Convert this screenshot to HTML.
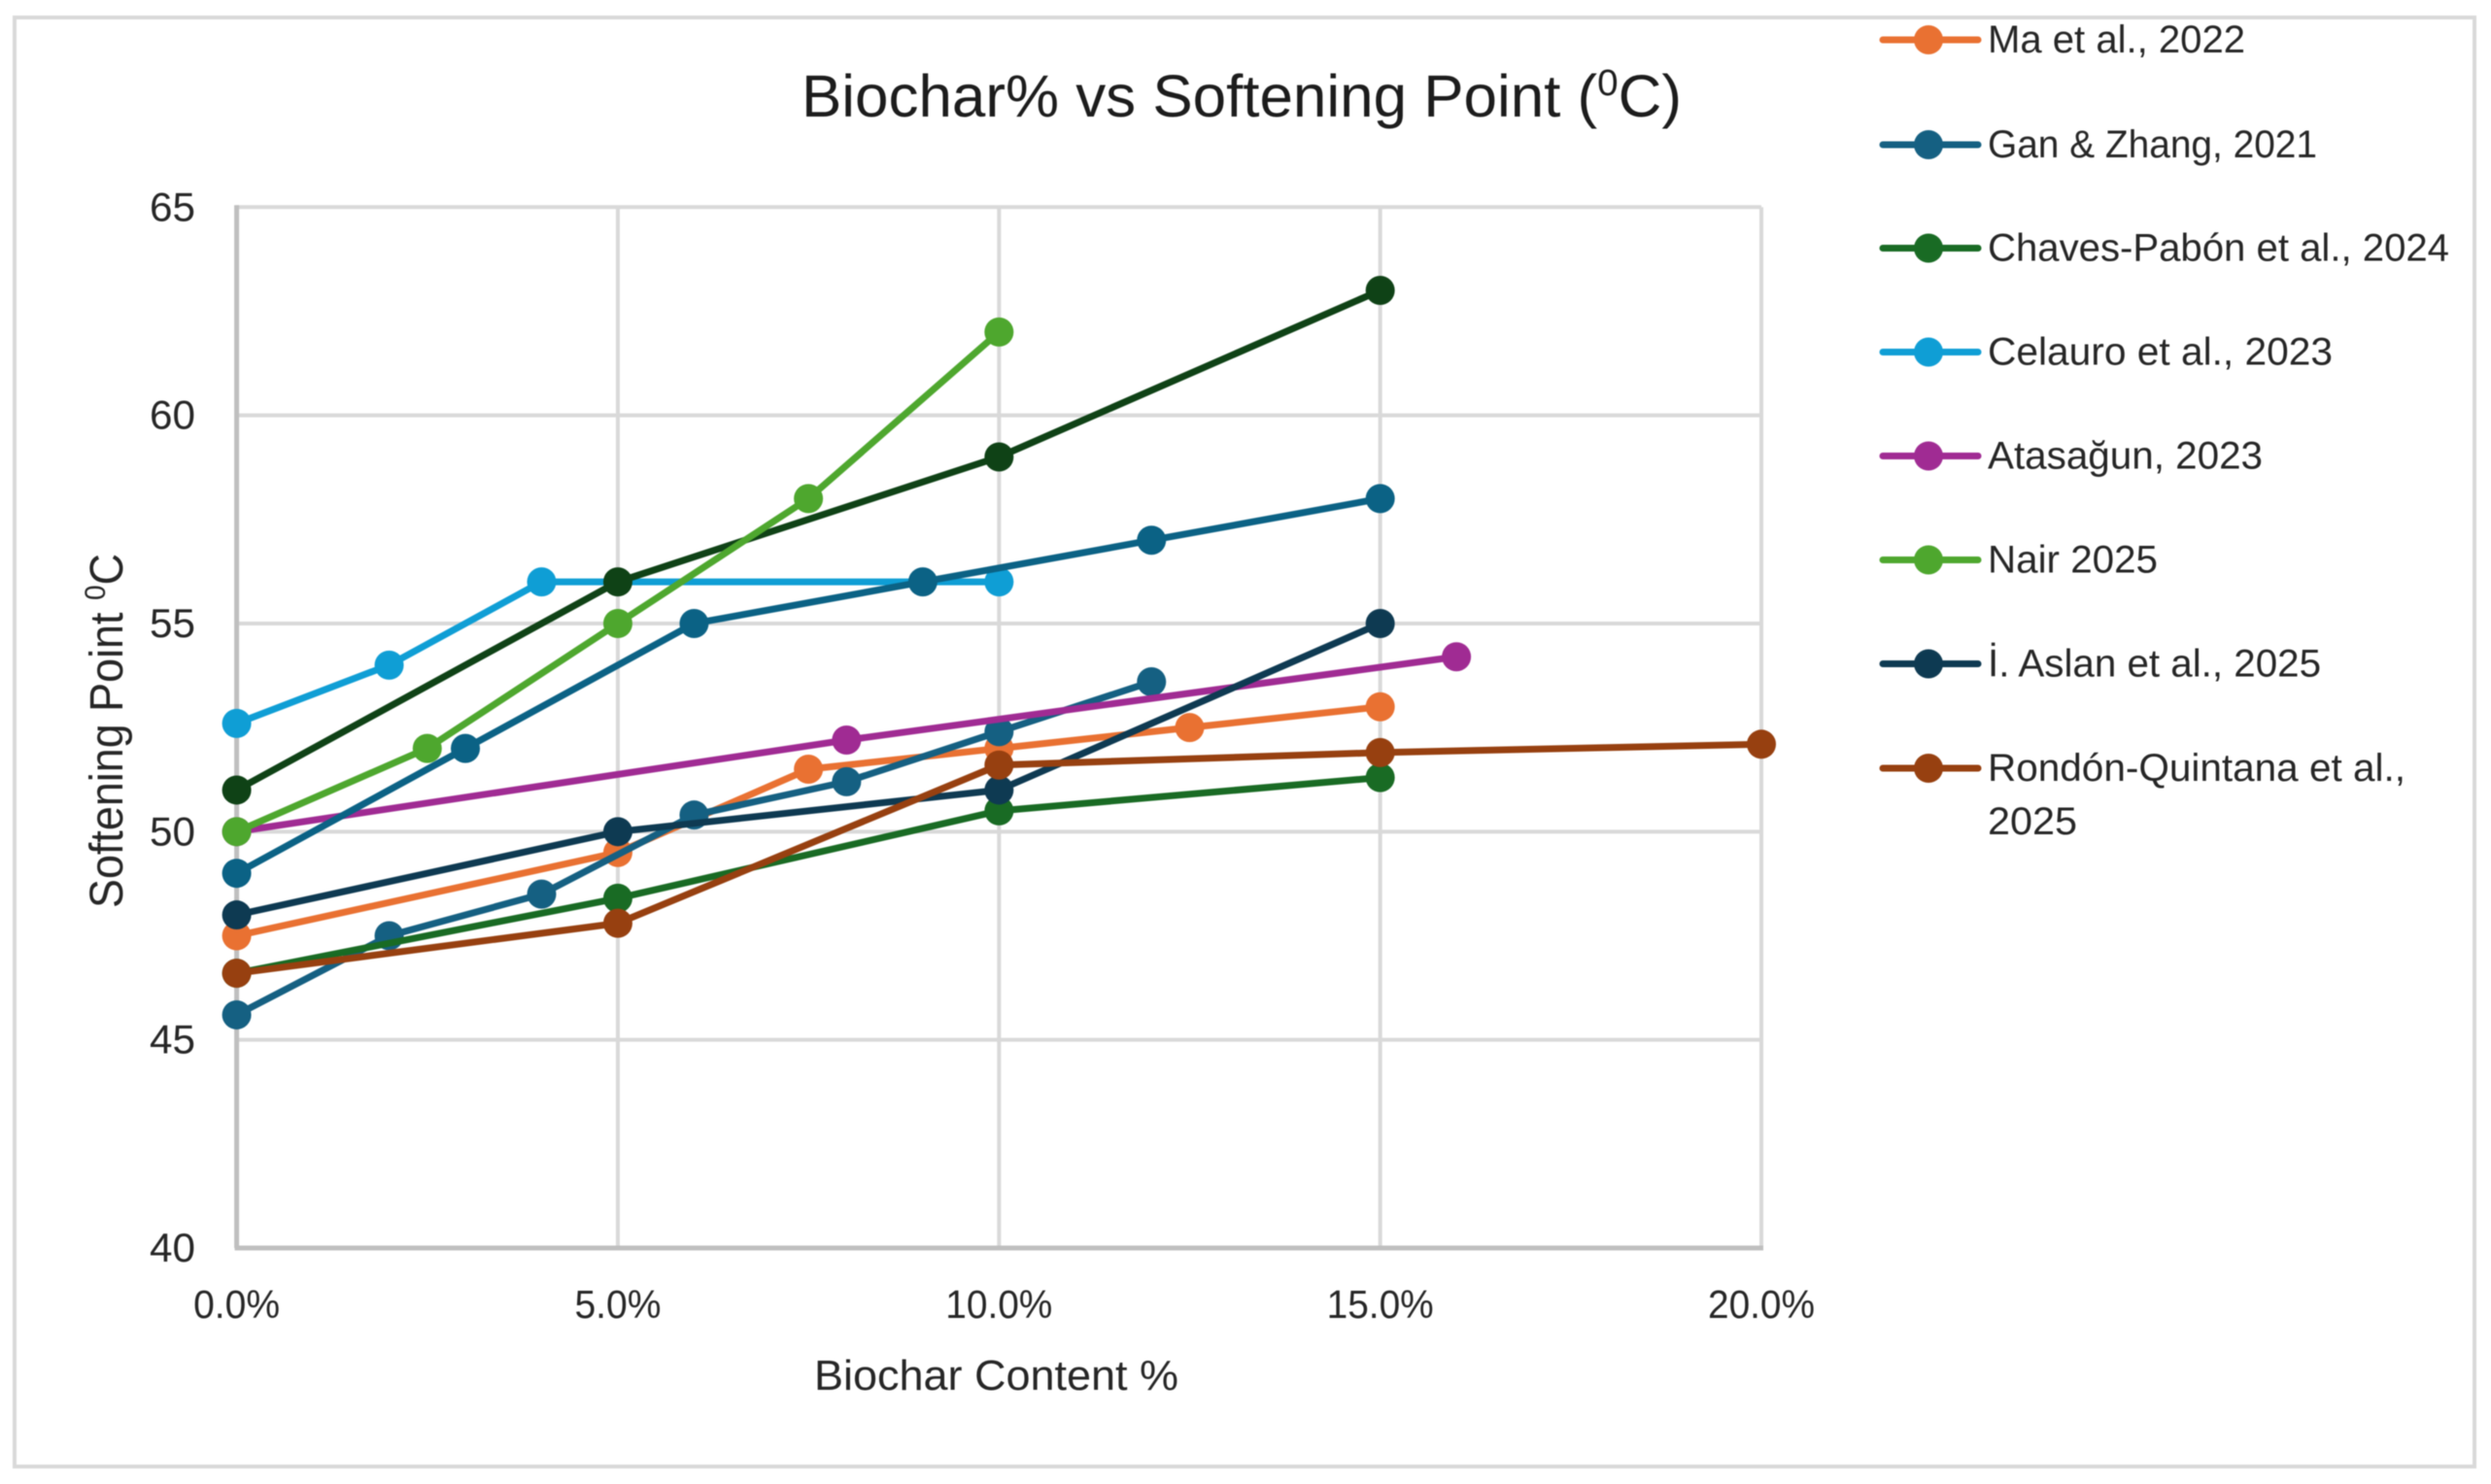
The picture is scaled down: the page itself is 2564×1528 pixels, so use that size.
<!DOCTYPE html>
<html lang="en">
<head>
<meta charset="utf-8">
<title>Biochar% vs Softening Point</title>
<style>
html,body{margin:0;padding:0;background:#fff;width:2564px;height:1528px;overflow:hidden}
svg{display:block;font-family:"Liberation Sans","DejaVu Sans",sans-serif;filter:blur(0.6px)}
text{fill:#262626}
</style>
</head>
<body>
<svg id="chart" width="2564" height="1528" viewBox="0 0 2564 1528" xmlns="http://www.w3.org/2000/svg">
  <rect x="15" y="18" width="2532" height="1492" fill="#fff" stroke="#d9d9d9" stroke-width="4"/>
  <text x="825" y="120" font-size="61" textLength="906" lengthAdjust="spacingAndGlyphs" style="fill:#1c1c1c">Biochar% vs Softening Point (<tspan font-size="38" dy="-22">0</tspan><tspan dy="22">C)</tspan></text>
  <g id="grid"></g>
  <g id="axes"></g>
  <g id="series"></g>
  <text x="838" y="1431" font-size="44" textLength="375" lengthAdjust="spacingAndGlyphs">Biochar Content %</text>
  <text transform="translate(126,935) rotate(-90)" x="0" y="0" font-size="48" textLength="365" lengthAdjust="spacingAndGlyphs">Softening Point <tspan font-size="30" dy="-18">0</tspan><tspan dy="18">C</tspan></text>

  <g>
    <g>
      <line x1="1938" x2="2036" y1="41" y2="41" stroke="#E97132" stroke-width="7" stroke-linecap="round"/><circle cx="1985" cy="41" r="15" fill="#E97132"/>
      <text x="2046" y="54" font-size="40" textLength="265" lengthAdjust="spacingAndGlyphs">Ma et al., 2022</text>
    </g>
    <g>
      <line x1="1938" x2="2036" y1="149" y2="149" stroke="#156082" stroke-width="7" stroke-linecap="round"/><circle cx="1985" cy="149" r="15" fill="#156082"/>
      <text x="2046" y="162" font-size="40" textLength="339" lengthAdjust="spacingAndGlyphs">Gan &amp; Zhang, 2021</text>
    </g>
    <g>
      <line x1="1938" x2="2036" y1="255.5" y2="255.5" stroke="#196B24" stroke-width="7" stroke-linecap="round"/><circle cx="1985" cy="255.5" r="15" fill="#196B24"/>
      <text x="2046" y="268.5" font-size="40" textLength="475" lengthAdjust="spacingAndGlyphs">Chaves-Pabón et al., 2024</text>
    </g>
    <g>
      <line x1="1938" x2="2036" y1="362.5" y2="362.5" stroke="#0F9ED5" stroke-width="7" stroke-linecap="round"/><circle cx="1985" cy="362.5" r="15" fill="#0F9ED5"/>
      <text x="2046" y="375.5" font-size="40" textLength="355" lengthAdjust="spacingAndGlyphs">Celauro et al., 2023</text>
    </g>
    <g>
      <line x1="1938" x2="2036" y1="469.5" y2="469.5" stroke="#A02B93" stroke-width="7" stroke-linecap="round"/><circle cx="1985" cy="469.5" r="15" fill="#A02B93"/>
      <text x="2046" y="482.5" font-size="40" textLength="283" lengthAdjust="spacingAndGlyphs">Atasağun, 2023</text>
    </g>
    <g>
      <line x1="1938" x2="2036" y1="576.5" y2="576.5" stroke="#4EA72E" stroke-width="7" stroke-linecap="round"/><circle cx="1985" cy="576.5" r="15" fill="#4EA72E"/>
      <text x="2046" y="589.5" font-size="40" textLength="175" lengthAdjust="spacingAndGlyphs">Nair 2025</text>
    </g>
    <g>
      <line x1="1938" x2="2036" y1="683.5" y2="683.5" stroke="#0E3A52" stroke-width="7" stroke-linecap="round"/><circle cx="1985" cy="683.5" r="15" fill="#0E3A52"/>
      <text x="2046" y="696.5" font-size="40" textLength="343" lengthAdjust="spacingAndGlyphs">İ. Aslan et al., 2025</text>
    </g>
    <g>
      <line x1="1938" x2="2036" y1="791" y2="791" stroke="#974010" stroke-width="7" stroke-linecap="round"/><circle cx="1985" cy="791" r="15" fill="#974010"/>
      <text x="2046" y="804" font-size="40" textLength="430" lengthAdjust="spacingAndGlyphs">Rondón-Quintana et al.,</text>
      <text x="2046" y="859" font-size="40" textLength="92" lengthAdjust="spacingAndGlyphs">2025</text>
    </g>
  </g>
</svg>

<script>
const xTickValues = [0, 5, 10, 15, 20];
const xTickLabels = ["0.0%", "5.0%", "10.0%", "15.0%", "20.0%"];
const yTickValues = [40, 45, 50, 55, 60, 65];
const yTickLabels = ["40", "45", "50", "55", "60", "65"];

const maX = [0, 5, 7.5, 10, 12.5, 15];
const maY = [47.5, 49.5, 51.5, 52, 52.5, 53];
const ganLowerX = [0, 2, 4, 6, 8, 10, 12];
const ganLowerY = [45.6, 47.5, 48.5, 50.4, 51.2, 52.4, 53.6];
const chavesX = [0, 5, 10, 15];
const chavesY = [46.6, 48.4, 50.5, 51.3];
const celauroX = [0, 2, 4, 10];
const celauroY = [52.6, 54, 56, 56];
const atasagunX = [0, 8, 16];
const atasagunY = [50, 52.2, 54.2];
const darkGreenX = [0, 5, 10, 15];
const darkGreenY = [51, 56, 59, 63];
const nairX = [0, 2.5, 5, 7.5, 10];
const nairY = [50, 52, 55, 58, 62];
const ganUpperX = [0, 3, 6, 9, 12, 15];
const ganUpperY = [49, 52, 55, 56, 57, 58];
const aslanX = [0, 5, 10, 15];
const aslanY = [48, 50, 51, 55];
const rondonX = [0, 5, 10, 15, 20];
const rondonY = [46.6, 47.8, 51.6, 51.9, 52.1];

const xScale = v => 243.6 + (v - 0) * (1813 - 243.6) / 20;
const yScale = v => 1285 - (v - 40) * (1285 - 213.3) / 25;

const NS = "http://www.w3.org/2000/svg";
function make(tag, attrs, parent) {
  const el = document.createElementNS(NS, tag);
  for (const k in attrs) el.setAttribute(k, attrs[k]);
  parent.appendChild(el);
  return el;
}

const grid = document.getElementById("grid");
const axes = document.getElementById("axes");
const seriesLayer = document.getElementById("series");

yTickValues.forEach((v, i) => {
  if (v !== 40) {
    const g = make("line", {x1: xScale(0), x2: xScale(20), y1: yScale(v), y2: yScale(v), stroke: "#d9d9d9", "stroke-width": 4}, grid);
    
    
  }
  const t = make("text", {x: 201, y: yScale(v) + 14, "text-anchor": "end", "font-size": 42, textLength: 47, lengthAdjust: "spacingAndGlyphs"}, axes);
  t.textContent = yTickLabels[i];
  
  
});

xTickValues.forEach((v, i) => {
  if (v !== 0) {
    const g = make("line", {x1: xScale(v), x2: xScale(v), y1: yScale(65), y2: yScale(40), stroke: "#d9d9d9", "stroke-width": 4}, grid);
    
    
  }
  const label = xTickLabels[i];
  const t = make("text", {x: xScale(v), y: 1357, "text-anchor": "middle", "font-size": 41, textLength: label.length === 4 ? 89 : 110, lengthAdjust: "spacingAndGlyphs"}, axes);
  t.textContent = label;
  
  
});

const xAxisLine = make("line", {x1: xScale(0) - 2, x2: xScale(20) + 2, y1: yScale(40), y2: yScale(40), stroke: "#bfbfbf", "stroke-width": 5}, axes);


const yAxisLine = make("line", {x1: xScale(0), x2: xScale(0), y1: yScale(65) - 2, y2: yScale(40), stroke: "#bfbfbf", "stroke-width": 5}, axes);



function drawSeries(name, xs, ys, color) {
  const g = make("g", {}, seriesLayer);
  
  
  const pts = xs.map((x, i) => xScale(x) + "," + yScale(ys[i])).join(" ");
  const line = make("polyline", {points: pts, fill: "none", stroke: color, "stroke-width": 7, "stroke-linejoin": "round", "stroke-linecap": "round"}, g);
  
  
  xs.forEach((x, i) => {
    const c = make("circle", {cx: xScale(x), cy: yScale(ys[i]), r: 15, fill: color}, g);
    
    
  });
}

drawSeries("ma-series", maX, maY, "#E97132");
drawSeries("gan-zhang-lower-series", ganLowerX, ganLowerY, "#156082");
drawSeries("chaves-pabon-series", chavesX, chavesY, "#196B24");
drawSeries("celauro-series", celauroX, celauroY, "#0F9ED5");
drawSeries("atasagun-series", atasagunX, atasagunY, "#A02B93");
drawSeries("dark-green-series", darkGreenX, darkGreenY, "#0F4216");
drawSeries("nair-series", nairX, nairY, "#4EA72E");
drawSeries("gan-zhang-upper-series", ganUpperX, ganUpperY, "#0B6285");
drawSeries("aslan-series", aslanX, aslanY, "#0E3A52");
drawSeries("rondon-quintana-series", rondonX, rondonY, "#974010");
</script>
</body>
</html>
